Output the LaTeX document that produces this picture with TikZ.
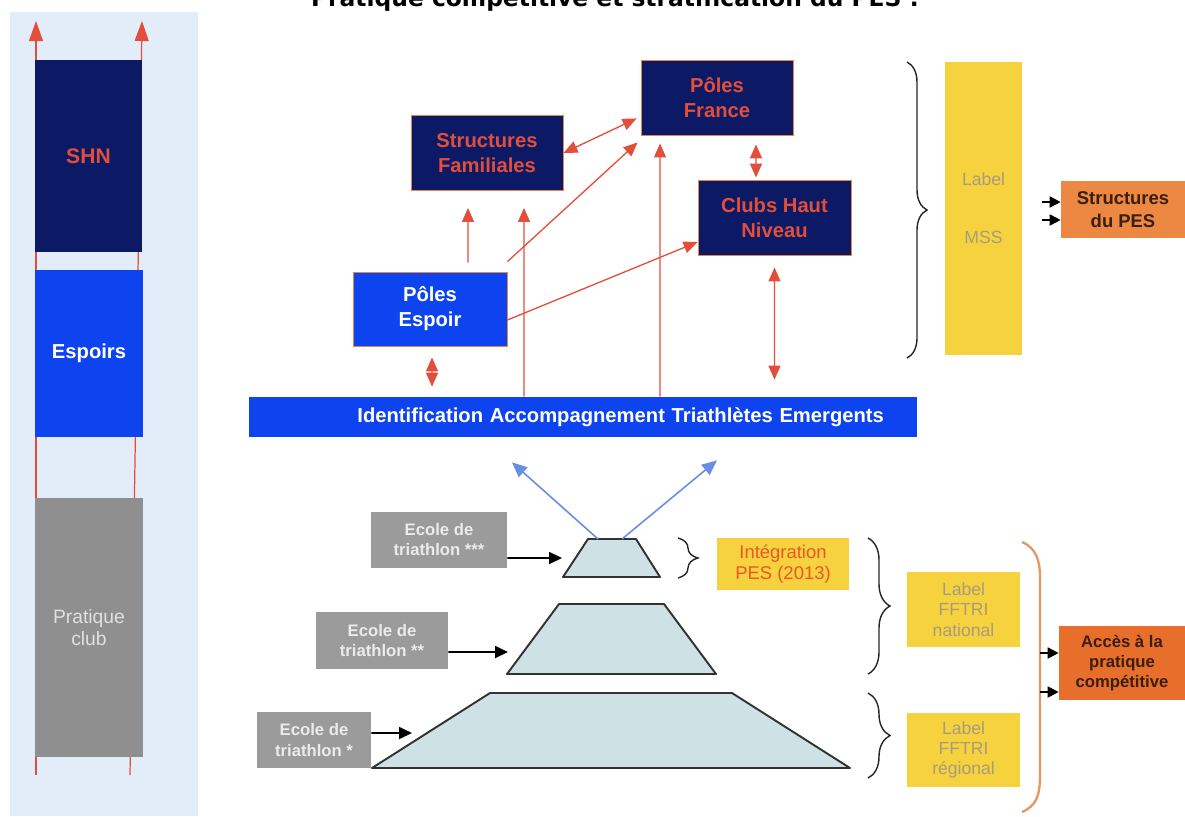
\documentclass[tikz,border=0pt]{standalone}
\usepackage{fontspec}
\setmainfont{Liberation Sans}
\newfontfamily\titlefont{DejaVu Sans}
\usetikzlibrary{arrows.meta,decorations.pathreplacing}

\definecolor{navy}{RGB}{12,26,102}
\definecolor{pesblue}{RGB}{14,68,240}
\definecolor{arrred}{RGB}{226,78,58}
\definecolor{panel}{RGB}{227,237,250}
\definecolor{clubgray}{RGB}{143,143,143}
\definecolor{ecolegray}{RGB}{155,155,155}
\definecolor{trapfill}{RGB}{206,226,229}
\definecolor{labelyellow}{RGB}{246,210,62}
\definecolor{labeltext}{RGB}{168,156,124}
\definecolor{pesorange}{RGB}{236,136,66}
\definecolor{accorange}{RGB}{232,110,44}
\definecolor{bracketorange}{RGB}{228,150,100}
\definecolor{lightarr}{RGB}{105,140,228}
\definecolor{integtext}{RGB}{232,88,40}
\definecolor{boxedge}{RGB}{232,132,72}
\definecolor{darktext}{RGB}{58,30,14}

\tikzset{
  navybox/.style={draw=boxedge, line width=0.5pt, fill=navy, text=arrred, align=center, inner sep=0pt,
    font=\fontsize{11.5}{14.2}\selectfont\bfseries, minimum width=3.04cm, minimum height=1.5cm},
  espoirbox/.style={navybox, fill=pesblue, text=white},
  colbox/.style={align=center, inner sep=0pt, minimum width=2.16cm},
  ecolebox/.style={fill=ecolegray, text=white!92!black, align=center, inner sep=0pt,
    font=\fontsize{9.5}{11.4}\selectfont\bfseries, minimum height=1.12cm},
  yellowbox/.style={fill=labelyellow, text=labeltext, align=center, inner sep=0pt,
    font=\fontsize{10}{11.6}\selectfont},
  orangebox/.style={fill=pesorange, text=darktext, align=center, inner sep=0pt,
    font=\fontsize{10.5}{13}\selectfont\bfseries},
  trap/.style={fill=trapfill, draw=black!80, line width=1.1pt, line join=round},
  brc/.style={decorate, decoration={brace, amplitude=#1}, black!85, line width=0.8pt},
  redarr/.style={arrred, line width=0.75pt, -{Triangle[length=0.28cm, width=0.24cm]}},
  redboth/.style={arrred, line width=0.75pt, {Triangle[length=0.28cm, width=0.24cm]}-{Triangle[length=0.28cm, width=0.24cm]}},
  colarr/.style={arrred, line width=0.7pt, -{Triangle[length=0.4cm, width=0.28cm]}},
  bluearr/.style={lightarr, line width=0.9pt, -{Triangle[length=0.3cm, width=0.26cm]}},
  blkarr/.style={black, line width=1pt, -{Triangle[length=0.26cm, width=0.24cm]}},
  pesarr/.style={black, line width=1pt, -{Triangle[length=0.22cm, width=0.22cm]}}
}

\begin{document}
\begin{tikzpicture}[x=0.02cm, y=-0.02cm]
    \useasboundingbox (0,0) rectangle (1185,816);

    \node[anchor=base, font=\titlefont\fontsize{13.3}{16}\selectfont\bfseries] (title) at (615,6)
        {Pratique compétitive et stratification du PES :};

    \fill[panel] (10,12) rectangle (198,816);
    \coordinate (lbot) at (36,775);
    \coordinate (ltop) at (36,21);
    \coordinate (rbot) at (130,775);
    \coordinate (rtop) at (142,21);
    \draw[colarr] (lbot) -- (ltop);
    \draw[colarr] (rbot) -- (rtop);

    \node[colbox, fill=navy, text=arrred, minimum height=3.84cm, font=\fontsize{12}{14}\selectfont\bfseries] (shn) at (88.5,156) {SHN};
    \node[colbox, fill=pesblue, text=white, minimum height=3.34cm, font=\fontsize{11.5}{14}\selectfont\bfseries] (espoirs) at (89,353.5) {Espoirs};
    \node[colbox, fill=clubgray, text=white!88!black, minimum height=5.18cm, font=\fontsize{11}{12.4}\selectfont] (club) at (89,627.5) {Pratique\\club};

    \node[navybox] (famil) at (487,153) {Structures\\Familiales};
    \node[navybox] (france) at (717,97.5) {Pôles\\France};
    \node[navybox, minimum width=3.06cm] (clubs) at (774.5,217.5) {Clubs Haut\\Niveau};
    \node[espoirbox, minimum width=3.08cm, minimum height=1.48cm] (espoir) at (430,309) {Pôles\\Espoir};
    \node[fill=pesblue, text=white, font=\fontsize{11.5}{14}\selectfont\bfseries, text width=12.04cm,
        inner xsep=0.66cm, inner ysep=0pt, align=right, minimum height=0.8cm] (iate) at (583,417)
        {Identification Accompagnement Triathlètes Emergents};

    \draw[redboth] (famil.east) -- ([xshift=-0.08cm, yshift=0.34cm]france.south west);
    \draw[redarr, shorten <=0.18cm, shorten >=0.34cm] ([xshift=0.76cm]espoir.north) -- ([xshift=-0.38cm]famil.south);
    \draw[redarr, shorten >=0.34cm] ([xshift=-1.18cm]iate.north) -- ([xshift=0.74cm]famil.south);
    \draw[redarr] ([yshift=0.2cm]espoir.north east) -- ([xshift=-0.06cm, yshift=-0.14cm]france.south west);
    \draw[redarr] ([yshift=-0.22cm]espoir.east) -- ([yshift=-0.49cm]clubs.west);
    \draw[redarr, shorten >=0.16cm] ([xshift=1.54cm]iate.north) -- ([xshift=-1.14cm]france.south);
    \draw[redboth, shorten <=0.18cm, shorten >=0.04cm] ([xshift=0.78cm]france.south) -- ([xshift=-0.37cm]clubs.north);
    \draw[redboth, shorten <=0.24cm, shorten >=0.34cm] (clubs.south) -- ([xshift=3.83cm]iate.north);
    \draw[redboth, shorten <=0.22cm, shorten >=0.2cm] ([xshift=0.04cm]espoir.south) -- ([xshift=-3.02cm]iate.north);

    \draw[brc=0.4cm] (907,62) -- (907,358);
    \node[yellowbox, minimum width=1.54cm, minimum height=5.86cm] (mss) at (983.5,208.5) {Label\\[0.76cm]MSS};
    \node[orangebox, minimum width=2.48cm, minimum height=1.14cm] (pes) at (1123,209.5) {Structures\\du PES};
    \draw[pesarr] ([xshift=-0.38cm, yshift=0.15cm]pes.west) -- ([yshift=0.15cm]pes.west);
    \draw[pesarr] ([xshift=-0.38cm, yshift=-0.21cm]pes.west) -- ([yshift=-0.21cm]pes.west);

    \filldraw[trap] (563,577) -- (588,539) -- (636,539) -- (660,577) -- cycle;
    \filldraw[trap] (507,674) -- (559,604) -- (664,604) -- (716,674) -- cycle;
    \filldraw[trap] (372,768) -- (490,693) -- (732,693) -- (850,768) -- cycle;
    \coordinate (t3l) at (598,539);
    \coordinate (t3r) at (622,539);
    \coordinate (t3in) at (562,558);
    \coordinate (t2in) at (508,652);
    \coordinate (t1in) at (412,733);
    \draw[bluearr] (t3l) -- ([xshift=-1.42cm, yshift=-0.5cm]iate.south);
    \draw[bluearr] (t3r) -- ([xshift=2.68cm, yshift=-0.46cm]iate.south);

    \node[ecolebox, minimum width=2.72cm] (e3) at (439,540) {Ecole de\\triathlon ***};
    \node[ecolebox, minimum width=2.64cm, minimum height=1.14cm] (e2) at (382,640.5) {Ecole de\\triathlon **};
    \node[ecolebox, minimum width=2.28cm] (e1) at (314,740) {Ecole de\\triathlon *};
    \draw[blkarr] ([yshift=-0.36cm]e3.east) -- (t3in);
    \draw[blkarr] ([yshift=-0.23cm]e2.east) -- (t2in);
    \draw[blkarr] ([yshift=0.14cm]e1.east) -- (t1in);

    \draw[brc=0.4cm] (678,538) -- (678,578);
    \node[yellowbox, text=integtext, font=\fontsize{10.5}{11.6}\selectfont, minimum width=2.64cm, minimum height=1.04cm] (integ) at (783,564) {Intégration\\PES (2013)};
    \draw[brc=0.44cm] (868,538) -- (868,674);
    \draw[brc=0.44cm] (868,693) -- (868,778);
    \node[yellowbox, minimum width=2.26cm, minimum height=1.5cm] (natl) at (963.5,609.5) {Label\\FFTRI\\national};
    \node[yellowbox, minimum width=2.26cm, minimum height=1.48cm] (regl) at (963.5,750) {Label\\FFTRI\\régional};

    \draw[bracketorange, line width=1.3pt] (1022,542) .. controls (1036,548) and (1040,560) .. (1040,578)
        -- (1040,776) .. controls (1040,796) and (1036,806) .. (1022,812);
    \node[orangebox, fill=accorange, font=\fontsize{9.5}{11.4}\selectfont\bfseries, minimum width=2.52cm, minimum height=1.48cm] (acces) at (1122,663) {Accès à la\\pratique\\compétitive};
    \draw[pesarr] ([xshift=-0.38cm, yshift=0.2cm]acces.west) -- ([yshift=0.2cm]acces.west);
    \draw[pesarr] ([xshift=-0.38cm, yshift=-0.58cm]acces.west) -- ([yshift=-0.58cm]acces.west);
\end{tikzpicture}
\end{document}
